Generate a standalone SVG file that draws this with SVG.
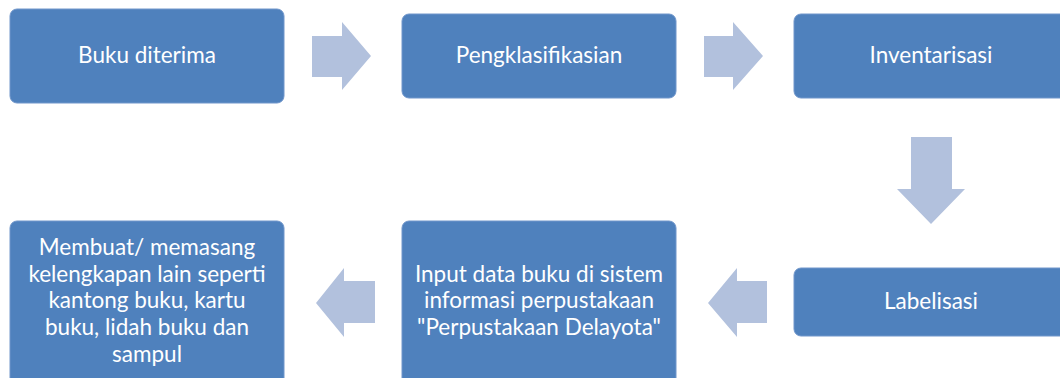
<svg xmlns="http://www.w3.org/2000/svg" width="1060" height="378" viewBox="0 0 1060 378">
<style>
.box{fill:#4F81BD;stroke:#7096CB;stroke-width:1}
.arr{fill:#B2C1DD}
text{font-family:Lato,"Liberation Sans",sans-serif;font-size:22.5px;fill:#FFFFFF;text-anchor:middle}
</style>
<rect width="1060" height="378" fill="#FFFFFF"/>
<g id="connectors">
<polygon class="arr" points="312,36 342,36 342,22 371,56 342,90 342,77 312,77"/>
<polygon class="arr" points="704,36 733,36 733,22 763,56 733,90 733,77 704,77"/>
<polygon class="arr" points="911,137 952,137 952,189 965,189 931,224 897,189 911,189"/>
<polygon class="arr" points="767,281 737,281 737,268 708,303 737,337 737,323 767,323"/>
<polygon class="arr" points="375,281 344,281 344,268 316,303 344,337 344,323 375,323"/>
</g>
<g id="node-buku-diterima">
<rect class="box" x="10" y="9" width="274" height="94" rx="7"/>
<text x="147" y="63">Buku diterima</text>
</g>
<g id="node-pengklasifikasian">
<rect class="box" x="402" y="14" width="274" height="84" rx="7"/>
<text x="539" y="63">Pengklasifikasian</text>
</g>
<g id="node-inventarisasi">
<rect class="box" x="794" y="14" width="274" height="84" rx="7"/>
<text x="931" y="63">Inventarisasi</text>
</g>
<g id="node-labelisasi">
<rect class="box" x="794" y="268" width="274" height="68" rx="7"/>
<text x="931" y="309">Labelisasi</text>
</g>
<g id="node-input-data">
<rect class="box" x="402" y="221" width="274" height="175" rx="7"/>
<text x="539" y="282">Input data buku di sistem</text>
<text x="539" y="308">informasi perpustakaan</text>
<text x="539" y="335">"Perpustakaan Delayota"</text>
</g>
<g id="node-membuat">
<rect class="box" x="10" y="221" width="274" height="175" rx="7"/>
<text x="147" y="255">Membuat/ memasang</text>
<text x="147" y="282">kelengkapan lain seperti</text>
<text x="147" y="308">kantong buku, kartu</text>
<text x="147" y="335">buku, lidah buku dan</text>
<text x="147" y="362">sampul</text>
</g>
</svg>
